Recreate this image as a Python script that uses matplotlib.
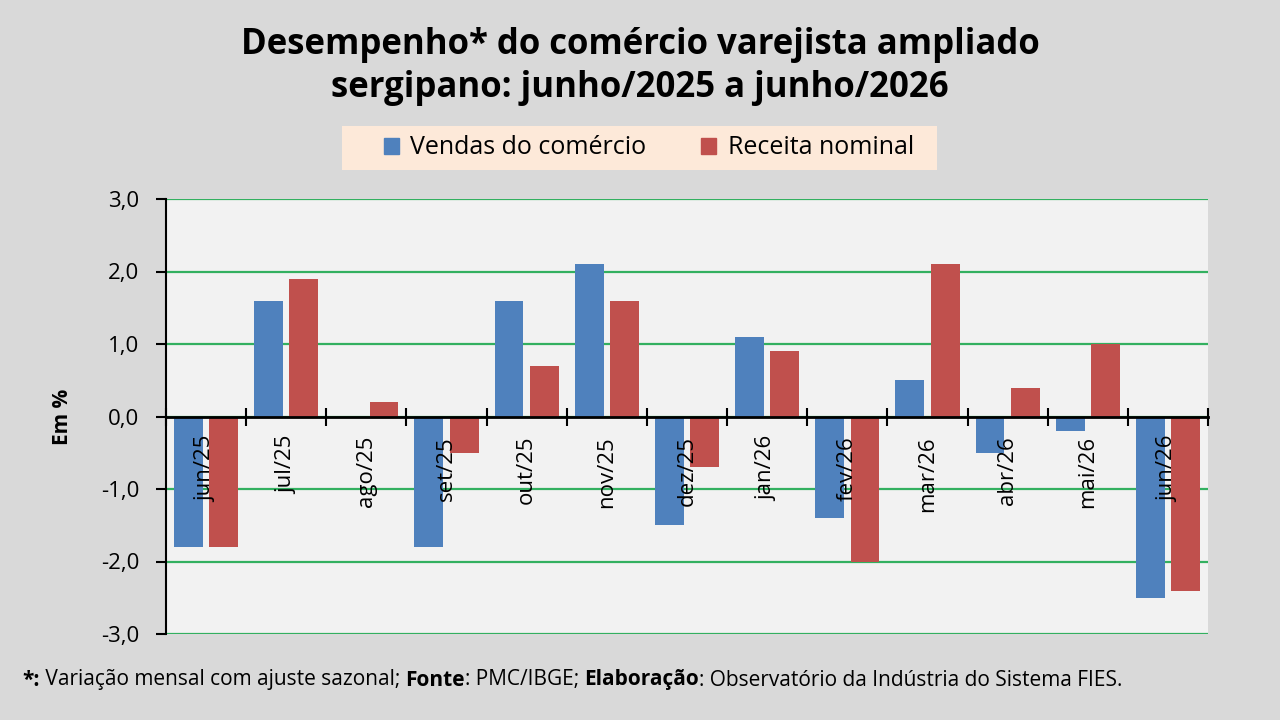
import numpy as np
import matplotlib
matplotlib.use("Agg")
import matplotlib.pyplot as plt
from matplotlib.patches import Rectangle, Patch

plt.rcParams['font.family'] = ['Open Sans', 'DejaVu Sans']

# dados (variação % mensal com ajuste sazonal)
meses = ['jun/25', 'jul/25', 'ago/25', 'set/25', 'out/25', 'nov/25', 'dez/25',
         'jan/26', 'fev/26', 'mar/26', 'abr/26', 'mai/26', 'jun/26']
vendas = [-1.8, 1.6, 0.0, -1.8, 1.6, 2.1, -1.5, 1.1, -1.4, 0.5, -0.5, -0.2, -2.5]
receita = [-1.8, 1.9, 0.2, -0.5, 0.7, 1.6, -0.7, 0.9, -2.0, 2.1, 0.4, 1.0, -2.4]

azul = '#4f81bd'
vermelho = '#c0504d'
verde = '#33b060'

W, H = 1280, 720
fig = plt.figure(figsize=(12.8, 7.2), dpi=100, facecolor='#d9d9d9')

def px(x0, y0, x1, y1):
    # caixa em pixels (origem no topo) -> fração da figura
    return [x0 / W, 1 - y1 / H, (x1 - x0) / W, (y1 - y0) / H]

ax = fig.add_axes(px(166, 199, 1208, 634))
ax.set_facecolor('#f2f2f2')
ax.set_axisbelow(False)

x = np.arange(len(meses))
larg = 0.36
yt = np.arange(-3, 4, 1)
for v in yt:
    ax.axhline(v, color=verde, lw=1.6, zorder=1)
ax.bar(x - 0.22, vendas, larg, color=azul, zorder=2)
ax.bar(x + 0.22, receita, larg, color=vermelho, zorder=2)

ax.set_xlim(-0.5, len(meses) - 0.5)
ax.set_ylim(-3, 3)

# eixo y
ax.set_yticks(yt)
ax.set_yticklabels([f'{v:.1f}'.replace('.', ',') for v in yt], fontsize=16)
ax.tick_params(axis='y', direction='out', length=7, width=1.5, pad=12)
ax.set_ylabel('Em %', fontsize=15, fontweight='bold', labelpad=20)

# eixo x no zero
for s in ['top', 'right']:
    ax.spines[s].set_visible(False)
ax.spines['left'].set_linewidth(1.5)
ax.spines['bottom'].set_position(('data', 0))
ax.spines['bottom'].set_linewidth(2)
ax.set_xticks(np.arange(-0.5, len(meses), 1))
ax.set_xticklabels([])
ax.tick_params(axis='x', which='major', direction='inout', length=13, width=1.5)
ax.set_xticks(x, minor=True)
ax.set_xticklabels(meses, minor=True, rotation=90, fontsize=16)
ax.tick_params(axis='x', which='minor', length=0, pad=14)

# título
fig.text(0.5, 1 - 45 / H, 'Desempenho* do comércio varejista ampliado',
         ha='center', va='center', fontsize=25, fontweight='bold')
fig.text(0.5, 1 - 88 / H, 'sergipano: junho/2025 a junho/2026',
         ha='center', va='center', fontsize=25, fontweight='bold')

# legenda
fig.patches.append(Rectangle(px(342, 126, 937, 170)[:2], 595 / W, 44 / H,
                             transform=fig.transFigure, facecolor='#fde9d9',
                             edgecolor='none', zorder=0))
handles = [Patch(color=azul, label='Vendas do comércio'),
           Patch(color=vermelho, label='Receita nominal')]
fig.legend(handles=handles, loc='center', bbox_to_anchor=(649 / W, 1 - 148 / H),
           ncol=2, frameon=False, fontsize=18, handlelength=0.6, handleheight=0.6,
           handletextpad=0.45, columnspacing=2.2)

# nota de rodapé com partes em negrito
partes = [('*:', 'bold'), (' Variação mensal com ajuste sazonal; ', 'normal'),
          ('Fonte', 'bold'), (': PMC/IBGE; ', 'normal'),
          ('Elaboração', 'bold'), (': Observatório da Indústria do Sistema FIES.', 'normal')]
r = fig.canvas.get_renderer()
xpos = 22
for txt, peso in partes:
    t = fig.text(xpos / W, 1 - 680 / H, txt, ha='left', va='center',
                 fontsize=15, fontweight=peso)
    xpos += t.get_window_extent(renderer=r).width

fig.savefig('out.png', dpi=100, facecolor=fig.get_facecolor())
